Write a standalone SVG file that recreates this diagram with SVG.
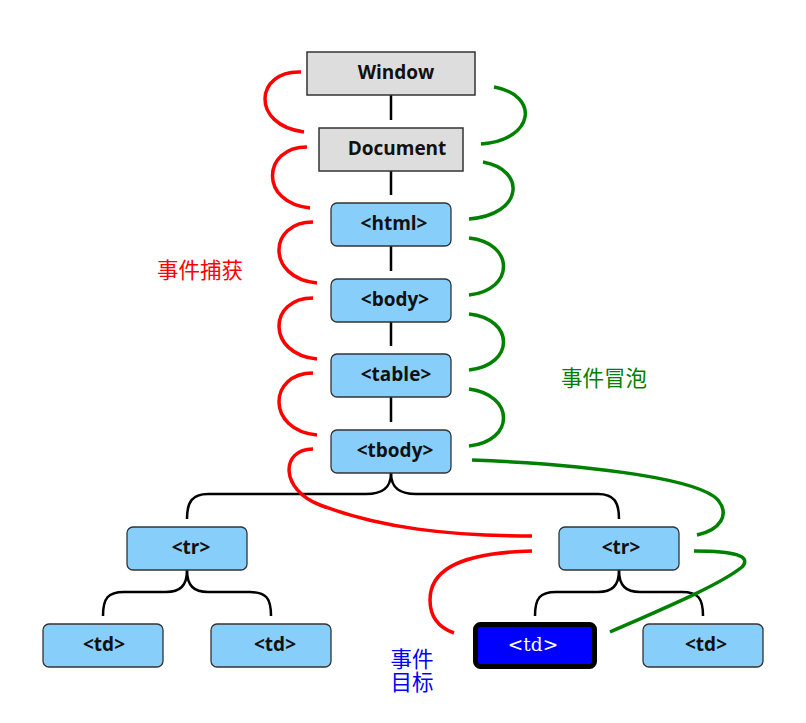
<svg xmlns="http://www.w3.org/2000/svg" width="806" height="723" viewBox="0 0 806 723">
<style>
.n rect{fill:#87cefa;stroke:#333;stroke-width:1.3}
.g rect{fill:#dddddd;stroke:#333;stroke-width:1.5}
.t{font-family:"Open Sans","Noto Sans",sans-serif;font-weight:bold;font-size:19px;fill:#111;text-anchor:middle}
.e{fill:none;stroke:#000;stroke-width:2.5}
.cap{fill:none;stroke:#f00;stroke-width:3.5}
.bub{fill:none;stroke:#008000;stroke-width:3.5}
.lbl{font-family:"Noto Sans CJK SC",sans-serif;font-size:21.5px;text-anchor:middle}
</style>
<g id="edges">
<path class="e" d="M391,95 V120 M391,171 V195 M391,246 V271 M391,322 V346 M391,397 V422"/>
<path class="e" d="M391,473 C391,490 380,494 366,494 L208,494 C192,494 187,502 187,519"/>
<path class="e" d="M391,473 C391,490 402,494 416,494 L598,494 C614,494 619,502 619,519"/>
<path class="e" d="M187,570 C187,586 180,592 166,592 L124,592 C108,592 103,598 103,616"/>
<path class="e" d="M187,570 C187,586 194,592 208,592 L250,592 C266,592 271,598 271,616"/>
<path class="e" d="M619,570 C619,586 612,592 598,592 L556,592 C540,592 535,598 535,616"/>
<path class="e" d="M619,570 C619,586 626,592 640,592 L682,592 C698,592 703,598 703,616"/>
</g>
<g id="capture">
<path class="cap" d="M301,72 C255,70 250,125 304,132"/>
<path class="cap" d="M307,147 C262,147 259,203 310,208"/>
<path class="cap" d="M313,222 C268,222 266,278 317,283"/>
<path class="cap" d="M313,298 C268,298 266,354 317,359"/>
<path class="cap" d="M313,373 C268,373 266,430 317,435"/>
<path class="cap" d="M313,449 C280,449 280,490 320,505 C380,528 450,536 532,536"/>
<path class="cap" d="M532,551 C450,553 430,575 430,600 C430,618 440,628 454,633"/>
</g>
<g id="bubble">
<path class="bub" d="M481,144 C535,140 540,95 494,87"/>
<path class="bub" d="M469,219 C523,215 527,170 483,162"/>
<path class="bub" d="M469,295 C515,290 515,243 469,238"/>
<path class="bub" d="M469,370 C515,365 515,319 469,314"/>
<path class="bub" d="M469,446 C515,441 515,395 469,389"/>
<path class="bub" d="M472,460 C600,465 700,480 718,500 C730,515 720,530 697,535"/>
<path class="bub" d="M610,632 C660,610 720,585 742,567 C752,556 735,551 694,551"/>
</g>
<g id="window" class="g"><rect x="307" y="52" width="168" height="43"/><text class="t" x="396" y="79">Window</text></g>
<g id="document" class="g"><rect x="319" y="128" width="144" height="43"/><text class="t" x="397" y="155">Document</text></g>
<g id="html" class="n"><rect x="331" y="203" width="120" height="43" rx="6"/><text class="t" x="394" y="230">&lt;html&gt;</text></g>
<g id="body" class="n"><rect x="331" y="279" width="120" height="43" rx="6"/><text class="t" x="395" y="306">&lt;body&gt;</text></g>
<g id="table" class="n"><rect x="331" y="354" width="120" height="43" rx="6"/><text class="t" x="396" y="381">&lt;table&gt;</text></g>
<g id="tbody" class="n"><rect x="331" y="430" width="120" height="43" rx="6"/><text class="t" x="395" y="457">&lt;tbody&gt;</text></g>
<g id="tr1" class="n"><rect x="127" y="527" width="120" height="43" rx="6"/><text class="t" x="191" y="554">&lt;tr&gt;</text></g>
<g id="tr2" class="n"><rect x="559" y="527" width="120" height="43" rx="6"/><text class="t" x="621" y="554">&lt;tr&gt;</text></g>
<g id="td1" class="n"><rect x="43" y="624" width="120" height="43" rx="6"/><text class="t" x="104" y="651">&lt;td&gt;</text></g>
<g id="td2" class="n"><rect x="211" y="624" width="120" height="43" rx="6"/><text class="t" x="275" y="651">&lt;td&gt;</text></g>
<g id="td-target"><rect x="475.5" y="624.5" width="119" height="42" rx="5" fill="#0000ff" stroke="#000" stroke-width="5"/><text x="533" y="651" font-family="'DejaVu Serif',serif" font-size="18.5" fill="#fff" text-anchor="middle">&lt;td&gt;</text></g>
<g id="td4" class="n"><rect x="643" y="624" width="120" height="43" rx="6"/><text class="t" x="706" y="651">&lt;td&gt;</text></g>
<g id="labels">
<text class="lbl" x="200" y="278" fill="#f00">事件捕获</text>
<text class="lbl" x="604" y="386" fill="#008000">事件冒泡</text>
<text class="lbl" fill="#0000ff"><tspan x="412" y="667">事件</tspan><tspan x="412" y="690">目标</tspan></text>
</g>
</svg>
